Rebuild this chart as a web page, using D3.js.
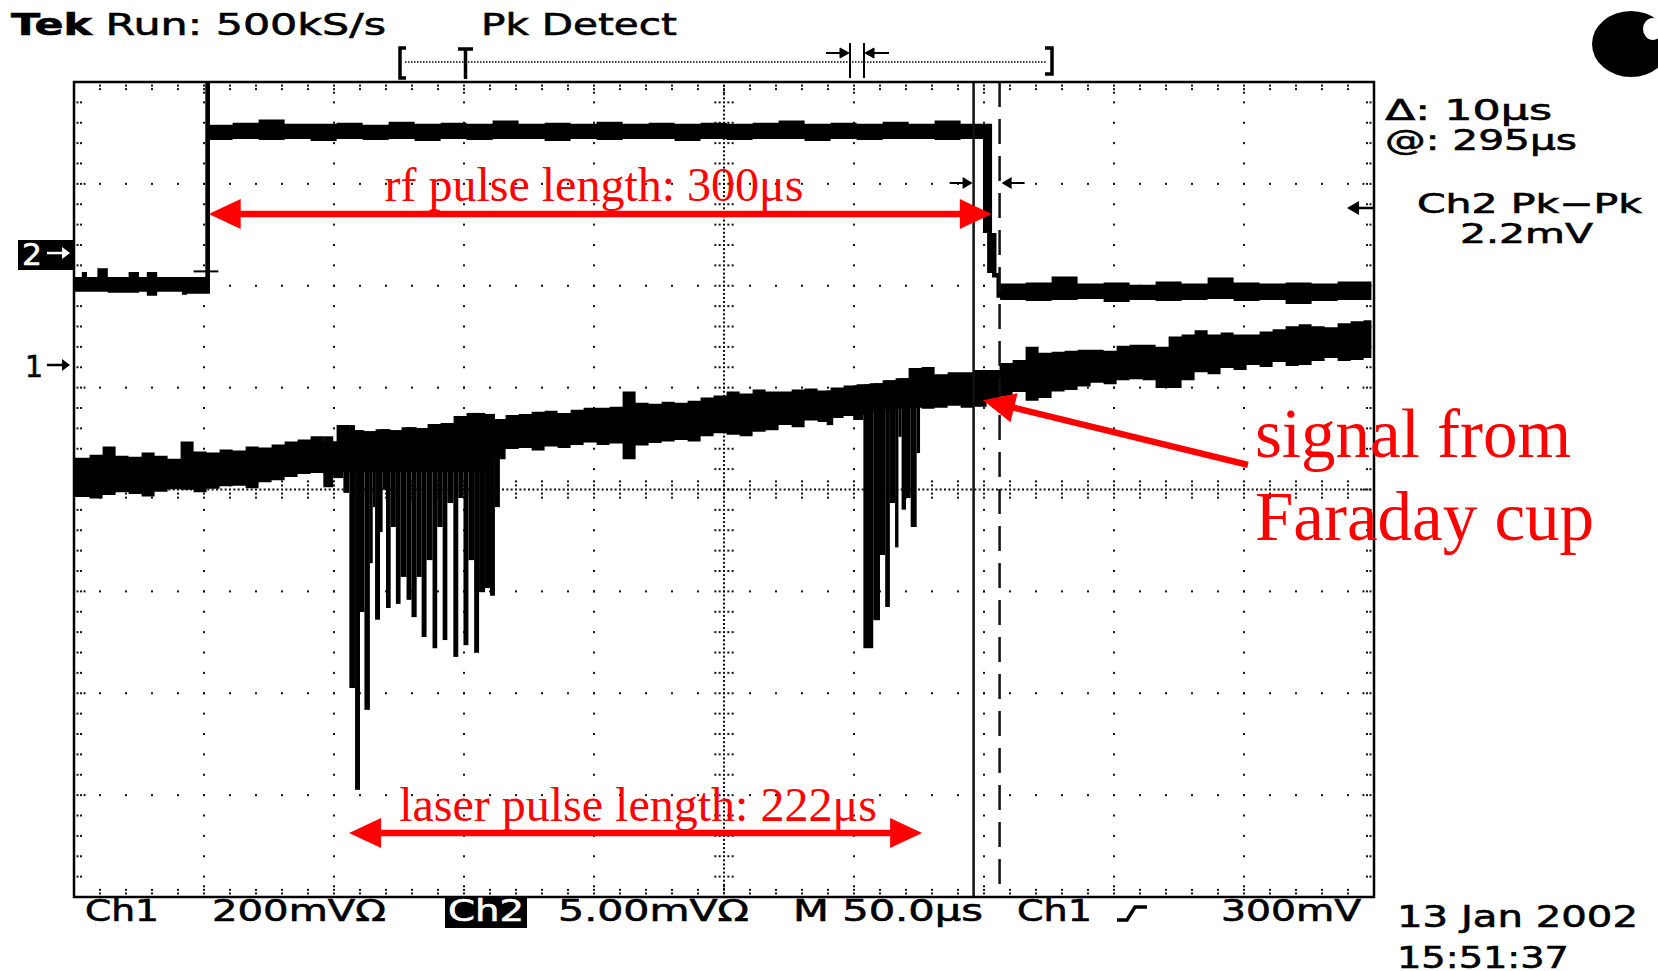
<!DOCTYPE html>
<html>
<head>
<meta charset="utf-8">
<script src="https://cdn.jsdelivr.net/npm/d3@7"></script>
<style>
  body { margin: 0; background: #fff; }
  svg { display: block; }
  .scope { font-family: "DejaVu Sans", sans-serif; font-size: 30px; fill: #000; stroke: #000; stroke-width: 0.6px; }
  .note { font-family: "Liberation Serif", "Times New Roman", serif; fill: #f00; }
</style>
</head>
<body>
<div class="scope-plot"></div>
<script>
// time since trigger in us, 50 us/div over 10 divisions
const timeRange = [-51, 449];

// ch1 = faraday cup, 200 mV/div, ground marker 1.222 div above centre
const ch1PerDiv = 200;
const ch1Pos = 1.222;
const ch1Time = [-51, -45, -40, -35, -30, -25, -20, -15, -10, -5, 0, 5, 10, 15, 20, 25, 30, 35, 40, 45,
  50, 55, 60, 65, 70, 75, 80, 85, 90, 95, 100, 105, 110, 115, 120, 125, 130, 135, 140, 145,
  150, 155, 160, 165, 170, 175, 180, 185, 190, 195, 200, 205, 210, 215, 220, 225, 230, 235, 240, 245,
  250, 255, 260, 265, 270, 275, 280, 285, 290, 295, 300, 305, 310, 315, 320, 325, 330, 335, 340, 345,
  350, 355, 360, 365, 370, 375, 380, 385, 390, 395, 400, 405, 410, 415, 420, 425, 430, 435, 440, 445,
  448];
// peak detect envelope (mV)
const ch1Top = [-182, -176, -160, -178, -180, -172, -178, -184, -150, -170,
  -172, -166, -168, -160, -162, -156, -150, -146, -140, -150,
  -118, -128, -130, -126, -128, -122, -124, -116, -114, -100,
  -94, -96, -106, -98, -96, -92, -90, -94, -88, -84,
  -84, -82, -52, -74, -76, -72, -74, -70, -64, -60,
  -52, -56, -48, -52, -52, -48, -46, -50, -44, -40,
  -38, -36, -30, -26, -6, -4, -18, -14, -14, -10,
  -10, 4, 10, 36, 24, 26, 28, 30, 30, 28,
  38, 40, 40, 36, 56, 60, 68, 60, 64, 60,
  60, 66, 70, 76, 80, 76, 74, 82, 86, 88, 88];
const ch1Bot = [-259, -262, -255, -250, -253, -258, -249, -244, -245, -250,
  -243, -238, -237, -242, -230, -226, -220, -214, -212, -216,
  -210, -214, -210, -210, -210, -210, -210, -210, -210, -210,
  -210, -210, -185, -165, -163, -168, -160, -163, -157, -152,
  -157, -154, -185, -158, -153, -150, -147, -150, -140, -134,
  -137, -140, -131, -128, -118, -122, -109, -112, -104, -100,
  -98, -92, -88, -86, -84, -86, -84, -80, -84, -82,
  -69, -62, -53, -70, -65, -52, -49, -42, -35, -38,
  -30, -28, -30, -45, -45, -30, -14, -18, -6, -10,
  0, -4, 6, -2, 0, 8, 14, 8, 10, 14, 14];
// negative spikes while the laser fires (us, us, mV)
const spikeFrom = [44.9, 48.7, 52.6, 54.9, 57.1, 59.0, 60.7, 62.8, 63.9, 64.8, 66.7, 67.7, 69.0, 70.8,
  72.8, 74.6, 76.9, 78.8, 80.8, 82.7, 84.6, 86.9, 88.7, 90.8, 92.6, 94.9, 96.8, 98.8, 100.7, 102.9,
  104.8, 107.1, 109.0, 110.9,
  238.5, 248.7, 252.6, 256.4, 259.0, 261.0, 262.8, 264.8, 266.1, 267.3, 269.0, 270.8, 273.1];
const spikeTo = [48.7, 52.6, 54.9, 57.1, 59.0, 60.7, 62.8, 63.9, 64.8, 66.7, 67.7, 69.0, 70.8, 72.8,
  74.6, 76.9, 78.8, 80.8, 82.7, 84.6, 86.9, 88.7, 90.8, 92.6, 94.9, 96.8, 98.8, 100.7, 102.9, 104.8,
  107.1, 109.0, 110.9, 112.8,
  241.0, 252.6, 256.4, 259.0, 261.0, 262.8, 264.8, 266.1, 267.3, 269.0, 270.8, 273.1, 274.4];
const spikeMin = [-240, -222, -251, -634, -834, -485, -677, -389, -279, -500, -328, -245, -477, -318,
  -469, -416, -461, -495, -416, -534, -383, -556, -318, -540, -271, -573, -261, -550, -383, -565,
  -446, -438, -453, -279,
  -118, -108, -556, -501, -373, -475, -271, -358, -141, -284, -261, -318, -173];

// ch2 = rf pulse, 5 mV/div, ground marker 2.321 div above centre
const ch2PerDiv = 5;
const ch2Pos = 2.321;
const ch2Time = [-51, -48, -46, -42, -38, -30, -26, -23, -19, -9.5, -7.5, -0.5, 1.3, 10, 20, 30, 40, 50,
  60, 70, 80, 90, 100, 110, 120, 130, 140, 150, 160, 170, 180, 190, 200, 210, 220, 230, 240, 250, 260,
  270, 280, 290, 298.6, 300.2, 302.1, 303.8, 305.2, 315, 325, 335, 345, 355, 365, 375, 385, 395, 405,
  415, 425, 435, 448];
const ch2Top = [-1.18, -0.93, -1.18, -0.74, -1.18, -0.93, -1.18, -0.93, -1.18, -1.18, -1.18, 8.39, 6.3,
  6.4, 6.55, 6.35, 6.35, 6.4, 6.3, 6.45, 6.35, 6.4, 6.35, 6.5, 6.35, 6.4, 6.35, 6.45, 6.35, 6.4, 6.35,
  6.4, 6.35, 6.4, 6.5, 6.35, 6.4, 6.35, 6.45, 6.35, 6.5, 6.35, 6.35, 6.35, 0.98, -0.98, -1.5, -1.45,
  -1.15, -1.5, -1.45, -1.55, -1.4, -1.5, -1.2, -1.45, -1.5, -1.45, -1.5, -1.4, -1.4];
const ch2Bot = [-1.9, -1.9, -1.9, -1.9, -1.95, -1.95, -1.9, -2.1, -1.9, -2.05, -2.0, -2.0, 5.55,
  5.6, 5.55, 5.6, 5.5, 5.6, 5.55, 5.6, 5.5, 5.6, 5.55, 5.6, 5.6, 5.5, 5.6, 5.55, 5.6, 5.6, 5.5, 5.6,
  5.55, 5.6, 5.6, 5.5, 5.6, 5.55, 5.6, 5.6, 5.55, 5.6, 0.98, -0.98, -1.2, -2.2, -2.3, -2.35, -2.3,
  -2.25, -2.4, -2.3, -2.35, -2.3, -2.25, -2.35, -2.3, -2.5, -2.35, -2.3, -2.3];

// cursors (us) and annotation spans (us)
const cursorTimes = [295, 305];
const rfSpan = [0.8, 302];
const laserSpan = [54.8, 275.2];
const signalArrow = { from: [400.5, -196], to: [298.6, -69] };

const width = 1658;
const height = 971;
const svg = d3.select('.scope-plot')
  .append('svg')
  .attr('width', width)
  .attr('height', height);

svg.append('rect').attr('width', width).attr('height', height).attr('fill', '#fff');

// scales: screen divisions, then one per channel
const x = d3.scaleLinear().domain(timeRange).range([74, 1374]);
const div = d3.scaleLinear().domain([-4, 4]).range([897, 82]);
const y1 = d3.scaleLinear()
  .domain([(-4 - ch1Pos) * ch1PerDiv, (4 - ch1Pos) * ch1PerDiv]).range([897, 82]);
const y2 = d3.scaleLinear()
  .domain([(-4 - ch2Pos) * ch2PerDiv, (4 - ch2Pos) * ch2PerDiv]).range([897, 82]);

// graticule dots
const t0 = timeRange[0];
const tc = t0 + 250;
const dots = [];
for (let i = 1; i < 10; i++) {
  if (i === 5) continue;
  for (let k = 1; k < 40; k++) dots.push([t0 + 50 * i, -4 + 0.2 * k]);
}
for (let j = 1; j < 8; j++) {
  if (j === 4) continue;
  for (let k = 1; k < 50; k++) dots.push([t0 + 10 * k, -4 + j]);
}
// centre cross is a dense dotted line with small ticks
for (let m = 1; m < 200; m++) dots.push([tc, -4 + 0.04 * m]);
for (let m = 1; m < 300; m++) dots.push([t0 + m * 5 / 3, 0]);
for (let k = 1; k < 40; k++) {
  [-10 / 3, -5 / 3, 5 / 3, 10 / 3].forEach(d => dots.push([tc + d, -4 + 0.2 * k]));
}
for (let k = 1; k < 50; k++) {
  [-0.08, -0.04, 0.04, 0.08].forEach(d => dots.push([t0 + 10 * k, d]));
}
// ticks along the frame
for (let k = 1; k < 50; k++) {
  const n = k % 5 === 0 ? 3 : 2;
  for (let q = 1; q <= n; q++) {
    dots.push([t0 + 10 * k, 4 - 0.035 * q]);
    dots.push([t0 + 10 * k, -4 + 0.035 * q]);
  }
}
for (let k = 1; k < 40; k++) {
  const n = k % 5 === 0 ? 3 : 2;
  for (let q = 1; q <= n; q++) {
    dots.push([t0 + 1.35 * q, -4 + 0.2 * k]);
    dots.push([timeRange[1] - 1.35 * q, -4 + 0.2 * k]);
  }
}

svg.append('g')
  .selectAll('rect')
  .data(dots)
  .enter()
  .append('rect')
  .attr('x', d => x(d[0]) - 1)
  .attr('y', d => div(d[1]) - 1)
  .attr('width', 2)
  .attr('height', 2)
  .attr('fill', '#111');

// traces drawn as peak-detect bands
const band = (scale) => d3.area()
  .x(d => x(d.t))
  .y0(d => scale(d.lo))
  .y1(d => scale(d.hi))
  .curve(d3.curveStepAfter);

const ch1Data = ch1Time.map((t, i) => ({ t: t, hi: ch1Top[i], lo: ch1Bot[i] }));
const ch2Data = ch2Time.map((t, i) => ({ t: t, hi: ch2Top[i], lo: ch2Bot[i] }));

svg.append('path').datum(ch2Data).attr('d', band(y2)).attr('fill', '#000');
svg.append('path').datum(ch1Data).attr('d', band(y1)).attr('fill', '#000');

// laser spikes hang under the ch1 band
const bandTop = t => ch1Top[d3.bisectRight(ch1Time, t) - 1];
const spikes = spikeFrom.map((t, i) => ({ from: t, to: spikeTo[i], min: spikeMin[i] }));
svg.selectAll('.spike')
  .data(spikes)
  .enter()
  .append('rect')
  .attr('class', 'spike')
  .attr('x', d => x(d.from))
  .attr('width', d => x(d.to) - x(d.from))
  .attr('y', d => y1(bandTop(d.from)))
  .attr('height', d => y1(d.min) - y1(bandTop(d.from)))
  .attr('fill', '#000');

// trigger level tick on the rising edge
svg.append('line')
  .attr('x1', x(-5)).attr('x2', x(4.5))
  .attr('y1', y2(-0.9)).attr('y2', y2(-0.9))
  .attr('stroke', '#000').attr('stroke-width', 2);

// cursors
svg.append('line')
  .attr('x1', x(cursorTimes[0])).attr('x2', x(cursorTimes[0]))
  .attr('y1', 82).attr('y2', 897)
  .attr('stroke', '#111').attr('stroke-width', 2.5);
svg.append('line')
  .attr('x1', x(cursorTimes[1])).attr('x2', x(cursorTimes[1]))
  .attr('y1', 82).attr('y2', 897)
  .attr('stroke', '#111').attr('stroke-width', 2.5)
  .attr('stroke-dasharray', '25,12');

// little cursor pointers
function pointer(xTip, dir, yy) {
  svg.append('line')
    .attr('x1', xTip - dir * 23).attr('x2', xTip - dir * 8)
    .attr('y1', yy).attr('y2', yy)
    .attr('stroke', '#000').attr('stroke-width', 2);
  svg.append('path')
    .attr('d', `M${xTip},${yy} L${xTip - dir * 10},${yy - 6} L${xTip - dir * 10},${yy + 6} Z`)
    .attr('fill', '#000');
}
pointer(x(cursorTimes[0]) - 1, 1, 183);
pointer(x(cursorTimes[1]) + 2, -1, 183);

// frame
svg.append('rect')
  .attr('x', 74).attr('y', 82)
  .attr('width', 1300).attr('height', 815)
  .attr('fill', 'none')
  .attr('stroke', '#000')
  .attr('stroke-width', 2.5);

// scope text
function scopeText(str, xx, yy, w, opts) {
  const t = svg.append('text')
    .attr('class', 'scope')
    .attr('x', xx).attr('y', yy)
    .attr('textLength', w)
    .attr('lengthAdjust', 'spacingAndGlyphs')
    .text(str);
  if (opts && opts.size) t.style('font-size', opts.size + 'px');
  if (opts && opts.fill) t.style('fill', opts.fill).style('stroke', opts.fill);
  return t;
}

const tek = svg.append('text')
  .attr('class', 'scope')
  .attr('x', 11).attr('y', 35)
  .attr('textLength', 375)
  .attr('lengthAdjust', 'spacingAndGlyphs');
tek.append('tspan').attr('font-weight', 'bold').text('Tek');
tek.append('tspan').text(' Run: 500kS/s');
scopeText('Pk Detect', 481, 35, 196);

scopeText('Δ: 10μs', 1385, 120, 167, { size: 28 });
scopeText('@: 295μs', 1385, 150, 192, { size: 28 });
scopeText('Ch2 Pk−Pk', 1417, 213, 225, { size: 27 });
scopeText('2.2mV', 1460, 243, 133, { size: 27 });

scopeText('Ch1', 85, 921, 74);
scopeText('200mVΩ', 212, 921, 174);
svg.append('rect').attr('x', 445).attr('y', 896).attr('width', 82).attr('height', 32).attr('fill', '#000');
scopeText('Ch2', 448, 921, 76, { fill: '#fff' });
scopeText('5.00mVΩ', 558, 921, 191);
scopeText('M 50.0μs', 793, 921, 190);
scopeText('Ch1', 1017, 921, 75);
svg.append('path')
  .attr('d', 'M1117,920 H1127 L1135,907 H1147')
  .attr('fill', 'none').attr('stroke', '#000').attr('stroke-width', 3.5);
scopeText('300mV', 1221, 921, 140);
scopeText('13 Jan 2002', 1397, 927, 241);
scopeText('15:51:37', 1397, 968, 172);

// channel ground markers
svg.append('rect').attr('x', 18).attr('y', 240).attr('width', 57).attr('height', 30).attr('fill', '#000');
scopeText('2', 22, 265, 20, { fill: '#fff' });
svg.append('path').attr('d', `M47,${div(ch2Pos)} H66`).attr('stroke', '#fff').attr('stroke-width', 2.5);
svg.append('path')
  .attr('d', `M70,${div(ch2Pos)} L62,${div(ch2Pos) - 6} L62,${div(ch2Pos) + 6} Z`)
  .attr('fill', '#fff');
scopeText('1', 25, 377, 18);
svg.append('path').attr('d', `M47,${div(ch1Pos)} H66`).attr('stroke', '#000').attr('stroke-width', 2.5);
svg.append('path')
  .attr('d', `M70,${div(ch1Pos)} L62,${div(ch1Pos) - 6} L62,${div(ch1Pos) + 6} Z`)
  .attr('fill', '#000');

// measurement pointer on the right edge
svg.append('path').attr('d', 'M1358,208 H1375').attr('stroke', '#000').attr('stroke-width', 2.5);
svg.append('path').attr('d', 'M1347,208 L1359,201 L1359,215 Z').attr('fill', '#000');

// record bar at the top
const bar = svg.append('g').attr('fill', 'none').attr('stroke', '#000');
bar.append('line').attr('x1', 405).attr('x2', 1046).attr('y1', 62).attr('y2', 62)
  .attr('stroke-width', 1.5).attr('stroke-dasharray', '1.5,1.5');
bar.append('path').attr('d', 'M406,48 H400 V78 H406').attr('stroke-width', 3.5);
bar.append('path').attr('d', 'M458,49 H473 M465.5,49 V79').attr('stroke-width', 3.5);
bar.append('path').attr('d', 'M850,43 V78 M864,43 V78').attr('stroke-width', 2);
bar.append('path').attr('d', 'M1045,48 H1052 V74 H1045').attr('stroke-width', 3.5);
bar.append('path').attr('d', 'M826,53 H840 M866,53 H889').attr('stroke-width', 2);
bar.append('path').attr('d', 'M849,53 L840,48 L840,58 Z M865,53 L874,48 L874,58 Z').attr('fill', '#000');

// logo blob at the top right
svg.append('ellipse').attr('cx', 1631).attr('cy', 44).attr('rx', 39).attr('ry', 33).attr('fill', '#000');
svg.append('ellipse').attr('cx', 1653).attr('cy', 29).attr('rx', 10).attr('ry', 11).attr('fill', '#fff');

// red annotations
function redArrow(xa, ya, xb, yb, both) {
  const len = 32, half = 15;
  const dx = xb - xa, dy = yb - ya;
  const L = Math.hypot(dx, dy);
  const ux = dx / L, uy = dy / L;
  const px = -uy, py = ux;
  const head = (tx, ty, sx, sy) =>
    `M${tx},${ty} L${tx - sx * len + px * half},${ty - sy * len + py * half} ` +
    `L${tx - sx * len - px * half},${ty - sy * len - py * half} Z`;
  svg.append('line')
    .attr('x1', both ? xa + ux * 20 : xa).attr('y1', both ? ya + uy * 20 : ya)
    .attr('x2', xb - ux * 20).attr('y2', yb - uy * 20)
    .attr('stroke', '#f00').attr('stroke-width', 6.5);
  svg.append('path').attr('d', head(xb, yb, ux, uy)).attr('fill', '#f00');
  if (both) svg.append('path').attr('d', head(xa, ya, -ux, -uy)).attr('fill', '#f00');
}

redArrow(x(rfSpan[0]), 214, x(rfSpan[1]), 214, true);
redArrow(x(laserSpan[0]), 833, x(laserSpan[1]), 833, true);
redArrow(x(signalArrow.from[0]), y1(signalArrow.from[1]),
  x(signalArrow.to[0]), y1(signalArrow.to[1]), false);

svg.append('text').attr('class', 'note')
  .attr('x', 594).attr('y', 201)
  .attr('text-anchor', 'middle')
  .style('font-size', '48px')
  .text('rf pulse length: 300μs');
svg.append('text').attr('class', 'note')
  .attr('x', 638).attr('y', 821)
  .attr('text-anchor', 'middle')
  .style('font-size', '48px')
  .text('laser pulse length: 222μs');
svg.append('text').attr('class', 'note')
  .attr('x', 1255).attr('y', 457)
  .style('font-size', '69px')
  .text('signal from');
svg.append('text').attr('class', 'note')
  .attr('x', 1255).attr('y', 540)
  .style('font-size', '69px')
  .text('Faraday cup');
</script>
</body>
</html>
